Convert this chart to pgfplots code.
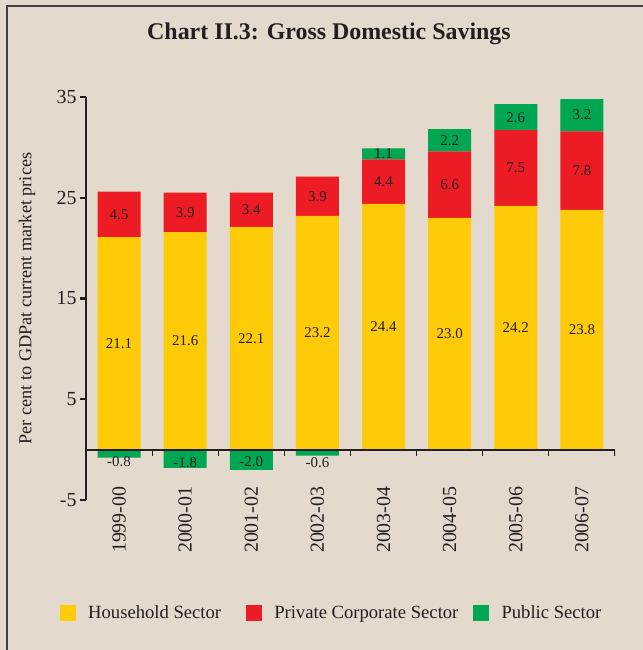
\documentclass[border=0pt]{standalone}
\usepackage{pgfplots}
\pgfplotsset{compat=1.18}
\usepackage{fontspec}
\setmainfont{Liberation Serif}
\definecolor{bg}{HTML}{E4D9CD}
\definecolor{hh}{HTML}{FFCB08}
\definecolor{pc}{HTML}{ED1C24}
\definecolor{ps}{HTML}{00A651}
\definecolor{tx}{HTML}{231F20}
\pgfplotsset{sqleg/.style={legend image code/.code={\fill[##1] (0bp,-7.8bp) rectangle (15.6bp,7.8bp);}}}
\begin{document}
\begin{tikzpicture}
\fill[bg] (0,0) rectangle (643bp,650bp);
\useasboundingbox (0,0) rectangle (643bp,650bp);
\draw[line width=2bp, tx!85] (6.5bp,0) -- (6.5bp,643.5bp) -- (643bp,643.5bp);
\node[font=\fontsize{24}{28}\selectfont\bfseries, text=tx] at (329bp,616bp) {Chart II.3: Gross Domestic Savings};
\begin{axis}[
  at={(86bp,150bp)}, anchor=south west, scale only axis,
  width=529bp, height=403bp,
  ymin=-5, ymax=35, xmin=-0.5, xmax=7.5,
  ybar stacked, bar width=43bp,
  axis y line=left, axis x line*=bottom,
  axis line style={-, line width=2.2bp, tx},
  every outer y axis line/.append style={-, line width=2.2bp, tx},
  x axis line style={draw=none},
  ytick={-5,5,15,25,35},
  ytick align=outside,
  ytick style={line width=2.2bp, tx},
  major tick length=6bp,
  xtick={0,1,2,3,4,5,6,7},
  xtick style={draw=none},
  xticklabels={1999-00,2000-01,2001-02,2002-03,2003-04,2004-05,2005-06,2006-07},
  xticklabel style={rotate=90, anchor=east},
  xticklabel shift=-17bp,
  tick label style={font=\fontsize{20}{24}\selectfont, text=tx},
  /pgf/number format/assume math mode=true,
  ylabel={Per cent to GDPat current market prices},
  ylabel style={at={(axis description cs:-0.1115,0.5)}, anchor=center, font=\fontsize{18.3}{22}\selectfont, text=tx},
  legend columns=3,
  legend style={at={(axis description cs:-0.049,-0.2804)}, anchor=west, draw=none, fill=none,
    inner sep=0pt, outer sep=0pt, font=\fontsize{18.7}{22}\selectfont, text=tx,
    nodes={inner sep=0pt},
    /tikz/every odd column/.append style={column sep=12.5bp},
    /tikz/column 2/.style={column sep=25bp},
    /tikz/column 4/.style={column sep=15bp}},
]
\addplot[fill=hh, draw=none, sqleg] coordinates {(0,21.1) (1,21.6) (2,22.1) (3,23.2) (4,24.4) (5,23.0) (6,24.2) (7,23.8)};
\addplot[fill=pc, draw=none, sqleg] coordinates {(0,4.5) (1,3.9) (2,3.4) (3,3.9) (4,4.4) (5,6.6) (6,7.5) (7,7.8)};
\addplot[fill=ps, draw=none, sqleg] coordinates {(0,0) (1,0) (2,0) (3,0) (4,1.1) (5,2.2) (6,2.6) (7,3.2)};
\legend{Household Sector, Private Corporate Sector, Public Sector}
\end{axis}
\begin{axis}[
  at={(86bp,150bp)}, anchor=south west, scale only axis,
  width=529bp, height=403bp,
  ymin=-5, ymax=35, xmin=-0.5, xmax=7.5,
  ybar, bar width=43bp, bar shift=0pt,
  hide axis,
]
\addplot[fill=ps, draw=none] coordinates {(0,-0.8) (1,-1.8) (2,-2.0) (3,-0.6)};
\draw[line width=2.2bp, tx] (axis cs:-0.5,0) -- (axis cs:7.5,0);
\draw[line width=2.2bp, tx] (axis cs:-0.5,35) -- (axis cs:-0.5,-5);
\pgfplotsinvokeforeach{0.5,1.5,...,7.5}{\draw[line width=1.2bp, tx] (axis cs:#1,0) -- ([yshift=-6bp]axis cs:#1,0);}
\begin{scope}[every node/.style={font=\fontsize{15}{18}\selectfont, text=tx, anchor=center}]
\node at (axis cs:0,10.55) {21.1};
\node at (axis cs:1,10.8) {21.6};
\node at (axis cs:2,11.05) {22.1};
\node at (axis cs:3,11.6) {23.2};
\node at (axis cs:4,12.2) {24.4};
\node at (axis cs:5,11.5) {23.0};
\node at (axis cs:6,12.1) {24.2};
\node at (axis cs:7,11.9) {23.8};
\node at (axis cs:0,23.35) {4.5};
\node at (axis cs:1,23.55) {3.9};
\node at (axis cs:2,23.8) {3.4};
\node at (axis cs:3,25.15) {3.9};
\node at (axis cs:4,26.6) {4.4};
\node at (axis cs:5,26.3) {6.6};
\node at (axis cs:6,27.95) {7.5};
\node at (axis cs:7,27.7) {7.8};
\node at (axis cs:4,29.4) {1.1};
\node at (axis cs:5,30.7) {2.2};
\node at (axis cs:6,32.95) {2.6};
\node at (axis cs:7,33.2) {3.2};
\node at (axis cs:0,-1.15) {-0.8};
\node at (axis cs:1,-1.3) {-1.8};
\node at (axis cs:2,-1.15) {-2.0};
\node at (axis cs:3,-1.3) {-0.6};
\end{scope}
\end{axis}
\end{tikzpicture}
\end{document}
